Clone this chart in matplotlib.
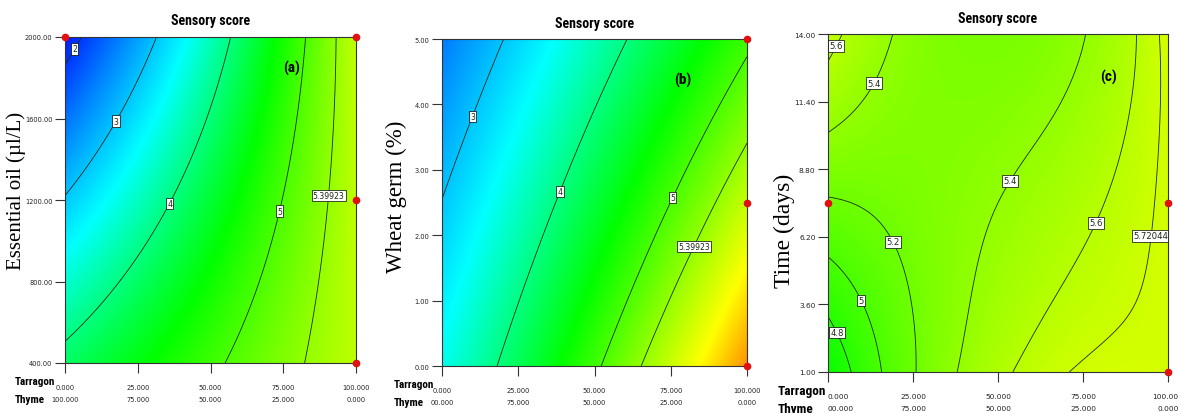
import numpy as np
import matplotlib
matplotlib.use("Agg")
import matplotlib.pyplot as plt
from matplotlib.colors import LinearSegmentedColormap, Normalize

# ---------------- data ----------------
# Contour-line crossings (tarragon %, second factor, sensory score)
a_tarragon = [5.5, 0, 2.8,   0, 17, 31,   0, 20, 36, 47.4, 57,
              54.3, 68, 73.5, 78.4, 82.8,   81.6, 87, 90, 91.4, 93.1,
              0, 0, 100, 100, 100]
a_oil = [2000, 1856, 1946,   1219, 1592, 2000,   538, 816, 1184, 1499, 2000,
         400, 813, 1146, 1499, 2000,   400, 813, 1224, 1499, 2000,
         2000, 400, 400, 1200, 2000]
a_score = [2, 2, 2,   3, 3, 3,   4, 4, 4, 4, 4,
           5, 5, 5, 5, 5,   5.39923, 5.39923, 5.39923, 5.39923, 5.39923,
           1.75, 4.1, 5.62, 5.62, 5.65]

b_tarragon = [0, 8.9, 19.3,   18.4, 28.2, 43.6, 61.6,
              52.1, 63.9, 74.8, 85.6, 100,   65.2, 77.7, 82, 100,
              0, 0, 100, 100]
b_wheat = [2.475, 3.84, 5,   0, 1.33, 3.165, 5,
           0, 1.33, 2.6, 3.47, 4.665,   0, 1.33, 1.835, 3.365,
           5, 0, 0, 5]
b_score = [3, 3, 3,   4, 4, 4, 4,
           5, 5, 5, 5, 5,   5.39923, 5.39923, 5.39923, 5.39923,
           2.45, 3.5, 6.5, 4.95]

c_tarragon = [5, 2.6, 0,   17.6, 11.8, 0.6,
              0, 12.4, 20.6, 22.6, 25.6,   0, 5.9, 10, 15.3,   0, 2.9, 6.5,
              37.9, 42.6, 55, 64.7, 77.1,   54.1, 68.8, 77.6, 86.5, 90.3,
              73.2, 82.2, 90.9, 93.8, 95.3, 96.2, 96.5,
              0, 0, 100, 100, 100, 45, 30]
c_days = [14, 13.53, 12.77,   14, 12.23, 10.35,
          7.27, 6.81, 6.11, 4.58, 1,   5.73, 4.58, 3.77, 1,   3.12, 2.53, 1,
          1, 4.58, 8.23, 9.96, 14,   1, 4.58, 6.81, 9.96, 14,
          1, 2.27, 3.53, 4.58, 6.23, 9.96, 14,
          14, 1, 1, 7.5, 14, 14, 9]
c_score = [5.6, 5.6, 5.6,   5.4, 5.4, 5.4,
           5.2, 5.2, 5.2, 5.2, 5.2,   5.0, 5.0, 5.0, 5.0,   4.8, 4.8, 4.8,
           5.4, 5.4, 5.4, 5.4, 5.4,   5.6, 5.6, 5.6, 5.6, 5.6,
           5.72044, 5.72044, 5.72044, 5.72044, 5.72044, 5.72044, 5.72044,
           5.66, 4.62, 5.76, 5.75, 5.75, 5.28, 5.3]

# contour levels and their label text
a_levels = [2, 3, 4, 5, 5.39923]
a_level_text = ["2", "3", "4", "5", "5.39923"]
b_levels = [3, 4, 5, 5.39923]
b_level_text = ["3", "4", "5", "5.39923"]
c_levels = [4.8, 5.0, 5.2, 5.4, 5.6, 5.72044]
c_level_text = ["4.8", "5", "5.2", "5.4", "5.6", "5.72044"]

# where the labels sit (data units)
a_lab_x = [2.8, 17, 36, 73.5, 90]
a_lab_y = [1946, 1592, 1184, 1146, 1224]
b_lab_x = [8.9, 36, 74.8, 82]
b_lab_y = [3.84, 2.72, 2.6, 1.835]
c_lab_x = [2.6, 11.8, 20.6, 10, 2.9, 55, 77.6, 95.3]
c_lab_y = [13.53, 12.23, 6.11, 3.77, 2.53, 8.23, 6.81, 6.23]

# design points (red dots)
a_pts_x = [0, 100, 100, 100]
a_pts_y = [2000, 2000, 1200, 400]
b_pts_x = [100, 100, 100]
b_pts_y = [5, 2.5, 0]
c_pts_x = [0, 100, 100]
c_pts_y = [7.5, 7.5, 1]

# ticks
x_ticks = [0, 25, 50, 75, 100]
tarragon_ticklabels = ["0.000", "25.000", "50.000", "75.000", "100.000"]
a_thyme_ticklabels = ["100.000", "75.000", "50.000", "25.000", "0.000"]
bc_thyme_ticklabels = ["00.000", "75.000", "50.000", "25.000", "0.000"]
a_yticks = [400, 800, 1200, 1600, 2000]
b_yticks = [0, 1, 2, 3, 4, 5]
c_yticks = [1.0, 3.6, 6.2, 8.8, 11.4, 14.0]

# ---------------- helpers ----------------
NARROW = ["Roboto Condensed", "Liberation Sans Narrow", "Roboto", "DejaVu Sans"]
SERIF = ["Liberation Serif", "DejaVu Serif"]

VMIN, VMAX = 1.6, 7.2
cmap = LinearSegmentedColormap.from_list(
    "de", [(0.0, "#0000ff"), ((3.4 - VMIN) / (VMAX - VMIN), "#00ffff"),
           ((4.6 - VMIN) / (VMAX - VMIN), "#00ff00"),
           ((6.0 - VMIN) / (VMAX - VMIN), "#ffff00"),
           (1.0, "#ff0000")])
norm = Normalize(VMIN, VMAX)


def fit_surface(x, y, z, xr, yr, deg, lam):
    x = np.asarray(x, float); y = np.asarray(y, float); z = np.asarray(z, float)
    u = (x - xr[0]) / (xr[1] - xr[0]); v = (y - yr[0]) / (yr[1] - yr[0])
    terms = [(i, j) for i in range(deg + 1) for j in range(deg + 1 - i)]
    A = np.column_stack([u ** i * v ** j for i, j in terms])
    coef = np.linalg.solve(A.T @ A + lam * np.eye(len(terms)), A.T @ z)

    def f(X, Y):
        U = (X - xr[0]) / (xr[1] - xr[0]); V = (Y - yr[0]) / (yr[1] - yr[0])
        return sum(c * U ** i * V ** j for c, (i, j) in zip(coef, terms))
    return f


def panel(ax, tx, ty, tz, yr, deg, levels, ltext, labx, laby, ptsx, ptsy,
          yticks, thyme_labels, ylabel, ylabel_size, ylab_pos, letter,
          fs_small, fs_name, name_dx, first_left):
    f = fit_surface(tx, ty, tz, (0, 100), yr, deg, 1e-4)
    gx = np.linspace(0, 100, 300)
    gy = np.linspace(yr[0], yr[1], 300)
    X, Y = np.meshgrid(gx, gy)
    Z = f(X, Y)
    ax.imshow(Z, origin="lower", extent=(0, 100, yr[0], yr[1]), aspect="auto",
              cmap=cmap, norm=norm, interpolation="bilinear")
    cs = ax.contour(X, Y, Z, levels=levels, colors="#1a2a10", linewidths=0.6)
    fmt = {lv: t for lv, t in zip(cs.levels, ltext)}
    texts = ax.clabel(cs, fmt=fmt, manual=list(zip(labx, laby)), inline=False,
                      fontsize=fs_small + 0.8)
    for t in texts:
        t.set_rotation(0)
        t.set_bbox(dict(boxstyle="square,pad=0.15", fc="white", ec="black", lw=0.5))
    ax.plot(ptsx, ptsy, "o", color="#e01010", ms=4.5, clip_on=False, zorder=10)
    ax.set_xlim(0, 100); ax.set_ylim(*yr)
    ax.set_xticks(x_ticks)
    ax.set_xticklabels(tarragon_ticklabels, fontsize=fs_small, color="#222222")
    if first_left:
        ax.get_xticklabels()[0].set_horizontalalignment("left")
    ax.set_yticks(yticks)
    ax.set_yticklabels(["{:.2f}".format(v) for v in yticks], fontsize=fs_small,
                       color="#222222")
    ax.tick_params(direction="out", length=7, width=0.8, color="#333333",
                   pad=2)
    ax.tick_params(axis="x", pad=8)
    for i, (xv, lab) in enumerate(zip(x_ticks, thyme_labels)):
        ax.annotate(lab, xy=(xv, 0), xycoords=("data", "axes fraction"),
                    xytext=(0, -26), textcoords="offset points",
                    ha="left" if (first_left and i == 0) else "center",
                    va="center", fontsize=fs_small, color="#222222")
    ax.annotate("Tarragon", xy=(0, 0), xycoords="axes fraction",
                xytext=(name_dx, -13), textcoords="offset points",
                ha="left", va="center", fontsize=fs_name, fontweight="bold",
                family=NARROW)
    ax.annotate("Thyme", xy=(0, 0), xycoords="axes fraction",
                xytext=(name_dx, -26), textcoords="offset points",
                ha="left", va="center", fontsize=fs_name, fontweight="bold",
                family=NARROW)
    for s in ax.spines.values():
        s.set_color("#333333"); s.set_linewidth(0.8)
    ax.set_title("Sensory score", fontsize=10, fontweight="bold",
                 family=NARROW, pad=9)
    ax.set_ylabel(ylabel, family=SERIF, fontsize=ylabel_size)
    ax.yaxis.set_label_coords(*ylab_pos)
    ax.text(letter[1], letter[2], letter[0], transform=ax.transAxes,
            fontsize=11, fontweight="bold", family=NARROW, ha="center",
            va="center")


fig = plt.figure(figsize=(11.78, 4.14), dpi=100)
W, H = 1178, 414


def axes_px(l, t, r, b):
    return fig.add_axes([l / W, 1 - b / H, (r - l) / W, (b - t) / H])


ax_a = axes_px(65, 38, 356, 364)
ax_b = axes_px(442, 40, 747, 367)
ax_c = axes_px(828, 35, 1168, 373)

panel(ax_a, a_tarragon, a_oil, a_score, (400, 2000), 3, a_levels, a_level_text,
      a_lab_x, a_lab_y, a_pts_x, a_pts_y, a_yticks,
      a_thyme_ticklabels, "Essential oil (\u00b5l/L)", 15, (-0.135, 0.53),
      ("(a)", 0.78, 0.905), 4.8, 8, -36, False)
panel(ax_b, b_tarragon, b_wheat, b_score, (0, 5), 3, b_levels, b_level_text,
      b_lab_x, b_lab_y, b_pts_x, b_pts_y, b_yticks,
      bc_thyme_ticklabels, "Wheat germ (%)", 16.5, (-0.115, 0.52),
      ("(b)", 0.79, 0.875), 4.8, 8, -35, False)
panel(ax_c, c_tarragon, c_days, c_score, (1, 14), 4, c_levels, c_level_text,
      c_lab_x, c_lab_y, c_pts_x, c_pts_y, c_yticks,
      bc_thyme_ticklabels, "Time (days)", 17, (-0.097, 0.42),
      ("(c)", 0.824, 0.875), 5.3, 9.5, -36, True)

fig.savefig("out.png", dpi=100, facecolor="white")
